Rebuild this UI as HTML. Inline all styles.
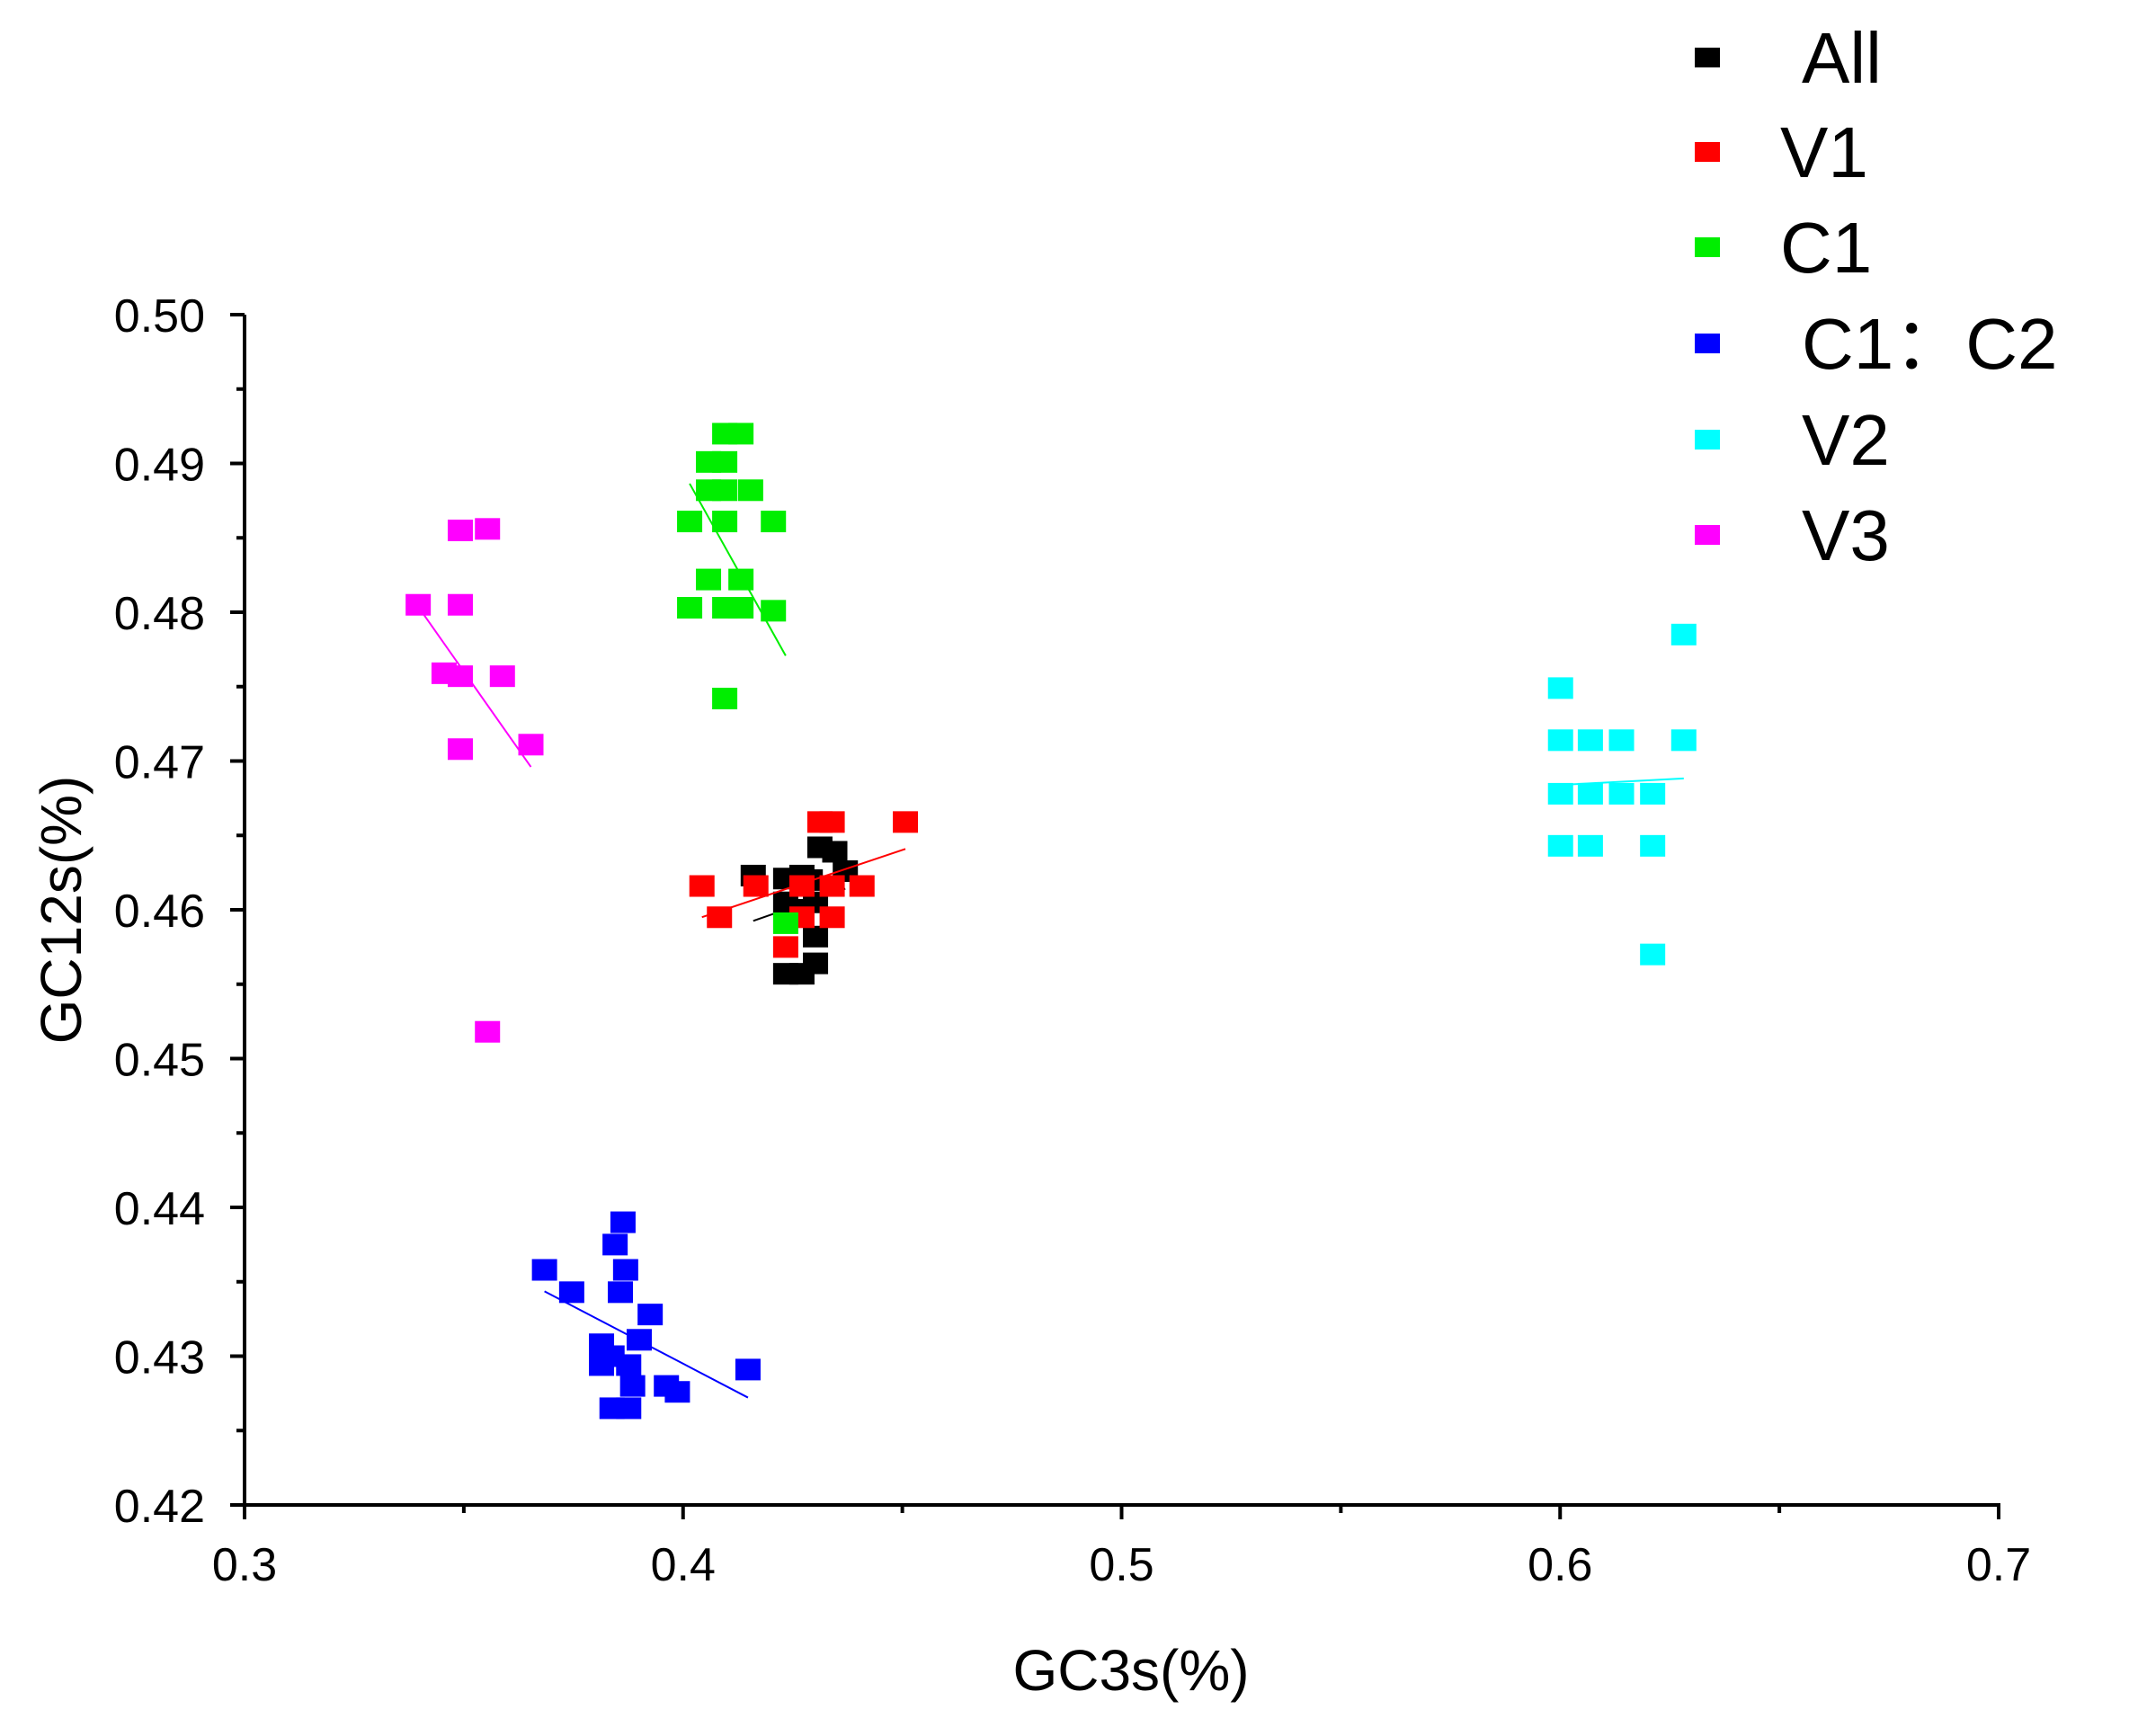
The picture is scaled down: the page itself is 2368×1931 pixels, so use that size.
<!DOCTYPE html>
<html><head><meta charset="utf-8"><style>
html,body{margin:0;padding:0;background:#fff;}
svg{display:block;font-family:"Liberation Sans",sans-serif;}
</style></head><body>
<svg id="chart" width="2368" height="1931" viewBox="0 0 2368 1931" xmlns="http://www.w3.org/2000/svg"></svg>
<script>
const seriesNames=["All","V1","C1","C1：C2","V2","V3"];
const seriesColors=["#000000","#ff0000","#00ee00","#0000ff","#00ffff","#ff00ff"];
const allX=[0.4160,0.4234,0.4271,0.4312,0.4346,0.4370,0.4234,0.4302,0.4302,0.4234,0.4271,0.4302,0.4290,0.4250];
const allY=[0.4623,0.4621,0.4623,0.4642,0.4639,0.4626,0.4605,0.4605,0.4582,0.4557,0.4557,0.4564,0.4620,0.4600];
const v1X=[0.4507,0.4312,0.4340,0.4043,0.4166,0.4271,0.4340,0.4408,0.4083,0.4271,0.4340,0.4234];
const v1Y=[0.4659,0.4659,0.4659,0.4616,0.4616,0.4616,0.4616,0.4616,0.4595,0.4595,0.4595,0.4575];
const c1X=[0.4015,0.4095,0.4132,0.4206,0.4095,0.4015,0.4095,0.4206,0.4058,0.4095,0.4154,0.4058,0.4095,0.4095,0.4132,0.4058,0.4132,0.4234];
const c1Y=[0.4803,0.4803,0.4803,0.4801,0.4742,0.4861,0.4861,0.4861,0.4882,0.4882,0.4882,0.4901,0.4901,0.4920,0.4920,0.4822,0.4822,0.4591];
const c12X=[0.3684,0.3746,0.3863,0.3845,0.3869,0.3857,0.3925,0.3814,0.3814,0.3876,0.3900,0.3885,0.3962,0.3987,0.4148,0.3838,0.3876,0.3838];
const c12Y=[0.4358,0.4343,0.4390,0.4375,0.4358,0.4343,0.4328,0.4308,0.4294,0.4294,0.4311,0.4280,0.4280,0.4276,0.4291,0.4265,0.4265,0.4300];
const v2X=[0.6001,0.6282,0.6001,0.6069,0.6140,0.6282,0.6001,0.6069,0.6140,0.6211,0.6001,0.6069,0.6211,0.6211];
const v2Y=[0.4749,0.4785,0.4714,0.4714,0.4714,0.4714,0.4678,0.4678,0.4678,0.4678,0.4643,0.4643,0.4643,0.4570];
const v3X=[0.3396,0.3492,0.3554,0.3492,0.3455,0.3492,0.3588,0.3492,0.3653,0.3554];
const v3Y=[0.4805,0.4855,0.4856,0.4805,0.4759,0.4757,0.4757,0.4708,0.4711,0.4518];
const xTicks=[0.3,0.4,0.5,0.6,0.7];
const xTickLabels=["0.3","0.4","0.5","0.6","0.7"];
const yTicks=[0.42,0.43,0.44,0.45,0.46,0.47,0.48,0.49,0.50];
const yTickLabels=["0.42","0.43","0.44","0.45","0.46","0.47","0.48","0.49","0.50"];

const NS="http://www.w3.org/2000/svg";
const svg=document.getElementById('chart');
const X0=272,X1=2223,Y0=1674,Y1=350;
const xs=v=>X0+(v-0.3)/(0.7-0.3)*(X1-X0);
const ys=v=>Y0-(v-0.42)/(0.50-0.42)*(Y0-Y1);
function mk(tag,attrs){const e=document.createElementNS(NS,tag);for(const k in attrs)e.setAttribute(k,attrs[k]);svg.appendChild(e);return e;}

let e;
e=mk('line',{x1:X0-2,y1:Y0,x2:X1+2,y2:Y0,stroke:'#000','stroke-width':4});


e=mk('line',{x1:X0,y1:Y0+2,x2:X0,y2:Y1,stroke:'#000','stroke-width':4});


for(let i=0;i<xTicks.length;i++){
  const x=xs(xTicks[i]);
  e=mk('line',{x1:x,y1:Y0,x2:x,y2:Y0+16,stroke:'#000','stroke-width':4});
  
  
  if(i<xTicks.length-1){const xm=xs((xTicks[i]+xTicks[i+1])/2);
    e=mk('line',{x1:xm,y1:Y0,x2:xm,y2:Y0+9,stroke:'#000','stroke-width':4});
    
    }
  e=mk('text',{x:x,y:Y0+84,'font-size':52,'text-anchor':'middle',fill:'#000'});
  e.textContent=xTickLabels[i];
  
  
}
for(let i=0;i<yTicks.length;i++){
  const y=ys(yTicks[i]);
  e=mk('line',{x1:X0-16,y1:y,x2:X0,y2:y,stroke:'#000','stroke-width':4});
  
  
  if(i<yTicks.length-1){const ym=ys((yTicks[i]+yTicks[i+1])/2);
    e=mk('line',{x1:X0-9,y1:ym,x2:X0,y2:ym,stroke:'#000','stroke-width':4});
    
    }
  e=mk('text',{x:X0-44,y:y+19,'font-size':52,'text-anchor':'end',fill:'#000'});
  e.textContent=yTickLabels[i];
  
  
}
e=mk('text',{x:1258,y:1880,'font-size':64,'text-anchor':'middle',fill:'#000'});
e.textContent='GC3s(%)';


e=mk('text',{x:90,y:1012,'font-size':64,'text-anchor':'middle',fill:'#000',transform:'rotate(-90 90 1012)'});
e.textContent='GC12s(%)';



const allSeries=[[allX,allY],[v1X,v1Y],[c1X,c1Y],[c12X,c12Y],[v2X,v2Y],[v3X,v3Y]];
for(let s=0;s<allSeries.length;s++){
  const [px,py]=allSeries[s];
  for(let i=0;i<px.length;i++){
    e=mk('rect',{x:xs(px[i])-14,y:ys(py[i])-12,width:28,height:24,fill:seriesColors[s]});
    
    
  }
  const n=px.length;let mx=0,my=0;for(let i=0;i<n;i++){mx+=px[i];my+=py[i];}mx/=n;my/=n;
  let sxy=0,sxx=0;for(let i=0;i<n;i++){sxy+=(px[i]-mx)*(py[i]-my);sxx+=(px[i]-mx)**2;}
  const b=sxx?sxy/sxx:0,a=my-b*mx;const lo=Math.min(...px),hi=Math.max(...px);
  e=mk('line',{x1:xs(lo),y1:ys(a+b*lo),x2:xs(hi),y2:ys(a+b*hi),stroke:seriesColors[s],'stroke-width':2});
  
  
}
const legY=[64,169,275,382,489,595];
const legText=["All","V1","C1","C1：C2","V2","V3"];
const legX=[2004,1980,1980,2004,2004,2004];
for(let s=0;s<seriesNames.length;s++){
  e=mk('rect',{x:1885,y:legY[s]-11,width:28,height:22,fill:seriesColors[s]});
  
  
  e=mk('text',{x:legX[s],y:legY[s]+28,'font-size':80,fill:'#000'});
  e.textContent=legText[s];
  
  
}
</script>
</body></html>
